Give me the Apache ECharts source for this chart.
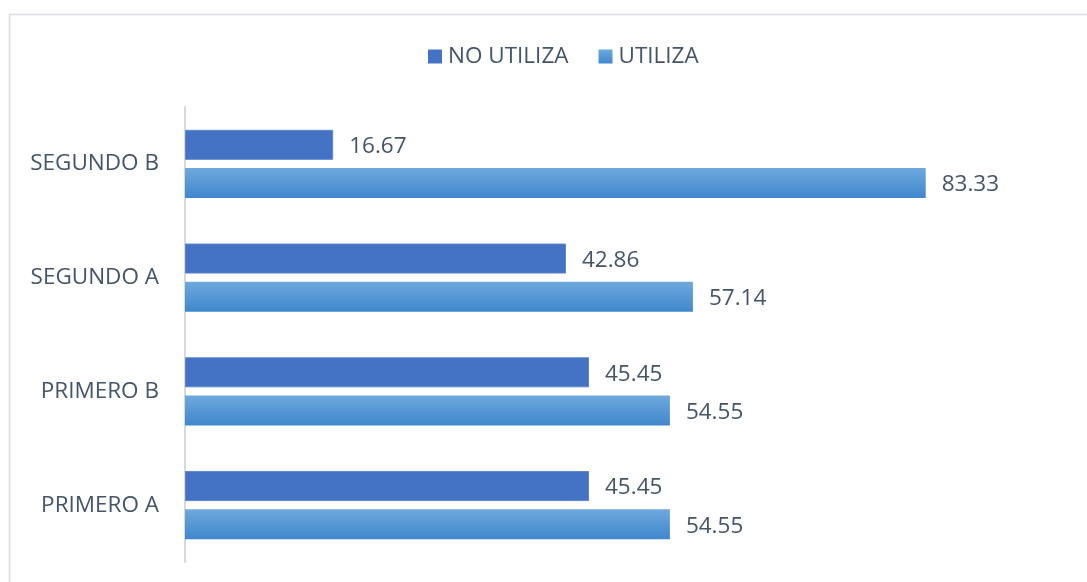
<!DOCTYPE html>
<html>
<head>
<meta charset="utf-8">
<script src="https://cdn.jsdelivr.net/npm/echarts@6/dist/echarts.min.js"></script>
<style>
  html, body { margin: 0; padding: 0; background: #fff; }
  #chart { width: 1087px; height: 582px; }
</style>
</head>
<body>
<div id="chart"></div>
<script>
// categories bottom -> top (category axis on y starts at the bottom)
var categories = ['PRIMERO A', 'PRIMERO B', 'SEGUNDO A', 'SEGUNDO B'];
var noUtiliza = [45.45, 45.45, 42.86, 16.67];
var utiliza = [54.55, 54.55, 57.14, 83.33];
var seriesNames = ['NO UTILIZA', 'UTILIZA'];

var textColor = '#44546a';
var font = '"Open Sans", "Noto Sans", sans-serif';

var chart = echarts.init(document.getElementById('chart'));

var utilizaGradient = new echarts.graphic.LinearGradient(0, 0, 0, 1, [
    {offset: 0, color: '#6ea9dd'},
    {offset: 1, color: '#3f87cd'}
]);

function valueLabel() {
    return {
        show: true,
        position: 'right',
        distance: 16,
        offset: [0, 2],
        color: textColor,
        fontSize: 22.5,
        fontFamily: font,
        formatter: function (p) { return p.value.toFixed(2); }
    };
}

var option = {
    backgroundColor: '#ffffff',
    animation: false,
    textStyle: {fontFamily: font},
    graphic: [{
        type: 'rect',
        shape: {x: 9.5, y: 14.5, width: 1100, height: 600},
        style: {fill: 'none', stroke: '#dadee4', lineWidth: 1.5},
        silent: true
    }],
    legend: {
        top: 40,
        left: 423,
        itemWidth: 14,
        itemHeight: 14,
        itemGap: 30,
        icon: 'rect',
        itemStyle: {borderWidth: 0},
        textStyle: {color: textColor, fontSize: 22.5, fontFamily: font, padding: [0, 0, 0, 1]},
        data: seriesNames
    },
    grid: {
        left: 185,
        right: 102,
        top: 107,
        bottom: 20
    },
    xAxis: {
        type: 'value',
        min: 0,
        max: 90,
        show: false
    },
    yAxis: {
        type: 'category',
        data: categories,
        axisLine: {show: true, lineStyle: {color: '#d9d9d9', width: 2}},
        axisTick: {show: false},
        axisLabel: {color: textColor, fontSize: 22.5, fontFamily: font, margin: 26, padding: [4, 0, 0, 0]}
    },
    series: [
        {
            name: seriesNames[0],
            type: 'bar',
            data: noUtiliza,
            barWidth: 30,
            barGap: '27%',
            itemStyle: {color: '#4472c4', borderColor: '#5b86d1', borderWidth: 1},
            label: valueLabel()
        },
        {
            name: seriesNames[1],
            type: 'bar',
            data: utiliza,
            barWidth: 30,
            itemStyle: {color: utilizaGradient},
            label: valueLabel()
        }
    ]
};

chart.setOption(option);
</script>
</body>
</html>
